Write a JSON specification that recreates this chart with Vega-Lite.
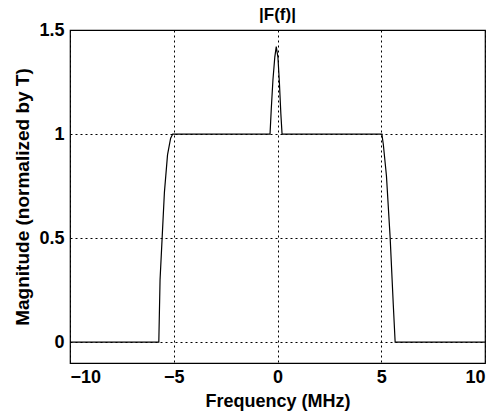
{
  "$schema": "https://vega.github.io/schema/vega-lite/v6.json",
  "width": 415,
  "height": 333,
  "autosize": {"type": "none"},
  "padding": {"left": 70, "top": 30, "right": 17, "bottom": 49},
  "background": "white",
  "title": {
    "text": "|F(f)|",
    "font": "Liberation Sans",
    "fontSize": 17,
    "fontWeight": "bold",
    "color": "black",
    "anchor": "middle",
    "baseline": "bottom",
    "offset": -20
  },
  "config": {
    "view": {"stroke": "black", "strokeWidth": 1.2},
    "axis": {
      "labelFont": "Liberation Sans",
      "labelFontSize": 18,
      "labelFontWeight": "bold",
      "labelColor": "black",
      "titleFont": "Liberation Sans",
      "titleFontSize": 18,
      "titleFontWeight": "bold",
      "titleColor": "black",
      "domain": false,
      "ticks": false,
      "grid": true,
      "gridColor": "black",
      "gridDash": [2, 3],
      "gridWidth": 1,
      "gridOpacity": 1
    }
  },
  "data": {
    "values": [
      {"f": -10, "m": 0},
      {"f": -5.72, "m": 0},
      {"f": -5.66, "m": 0.3},
      {"f": -5.56, "m": 0.5},
      {"f": -5.45, "m": 0.72},
      {"f": -5.3, "m": 0.9},
      {"f": -5.15, "m": 0.98},
      {"f": -5.05, "m": 1},
      {"f": -0.36, "m": 1},
      {"f": -0.3, "m": 1.12},
      {"f": -0.22, "m": 1.26},
      {"f": -0.13, "m": 1.37},
      {"f": -0.06, "m": 1.42},
      {"f": 0.02, "m": 1.37},
      {"f": 0.09, "m": 1.25},
      {"f": 0.16, "m": 1.1},
      {"f": 0.22, "m": 1},
      {"f": 5.03, "m": 1},
      {"f": 5.1, "m": 0.95},
      {"f": 5.25, "m": 0.8},
      {"f": 5.43, "m": 0.5},
      {"f": 5.58, "m": 0.18},
      {"f": 5.67, "m": 0},
      {"f": 10, "m": 0}
    ]
  },
  "mark": {"type": "line", "color": "black", "strokeWidth": 1.2},
  "encoding": {
    "x": {
      "field": "f",
      "type": "quantitative",
      "sort": null,
      "scale": {"domain": [-10, 10], "nice": false, "zero": false},
      "axis": {"values": [-10, -5, 0, 5, 10], "format": "~r", "title": "Frequency (MHz)", "labelPadding": 5, "titlePadding": 6}
    },
    "y": {
      "field": "m",
      "type": "quantitative",
      "scale": {"domain": [-0.1, 1.5], "nice": false, "zero": false},
      "axis": {"values": [0, 0.5, 1, 1.5], "format": "~r", "title": "Magnitude (normalized by T)", "titleFontSize": 19, "labelPadding": 6, "titlePadding": 6}
    }
  }
}
